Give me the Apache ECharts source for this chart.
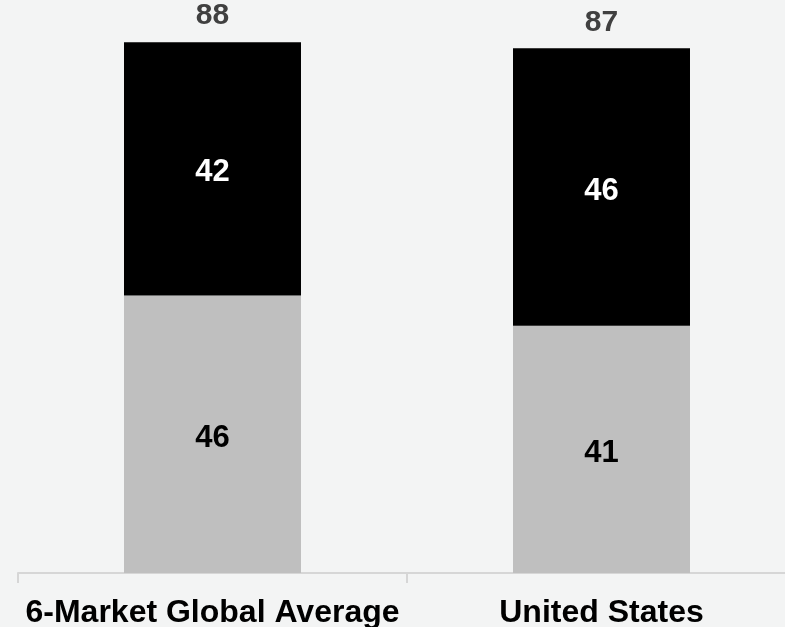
<!DOCTYPE html>
<html>
<head>
<meta charset="utf-8">
<script src="https://cdn.jsdelivr.net/npm/echarts@6/dist/echarts.min.js"></script>
<style>
  html, body { margin: 0; padding: 0; background: #F3F4F4; }
  #chart { width: 785px; height: 627px; }
</style>
</head>
<body>
<div id="chart"></div>
<script>
// Categories and stacked segment values
const categories = ['6-Market Global Average', 'United States'];
const lowerValues = [46, 41];   // grey segment
const upperValues = [42, 46];   // black segment
const totalValues = [88, 87];   // stack totals shown above the bars

const FONT = '"Liberation Sans", Arial, sans-serif';

const chart = echarts.init(document.getElementById('chart'), null, { renderer: 'canvas' });

chart.setOption({
  backgroundColor: '#F3F4F4',
  animation: false,
  // the plot runs slightly past the right edge of the canvas
  grid: {
    left: 18, width: 778, top: 0, height: 573,
    containLabel: false,
    outerBoundsMode: 'none'
  },
  xAxis: {
    type: 'category',
    data: categories,
    axisLine: { show: true, lineStyle: { color: '#D6D6D6', width: 2 } },
    axisTick: { show: true, length: 10, lineStyle: { color: '#D6D6D6', width: 2 } },
    axisLabel: {
      interval: 0,
      hideOverlap: false,
      color: '#000000',
      fontFamily: FONT,
      fontWeight: 'bold',
      fontSize: 32,
      margin: 24
    }
  },
  yAxis: {
    type: 'value',
    min: 0,
    max: 95,
    show: false,
    splitLine: { show: false }
  },
  series: [
    {
      name: 'lower',
      type: 'bar',
      stack: 'total',
      barWidth: '45.5%',
      data: lowerValues,
      itemStyle: { color: '#BFBFBF' },
      label: {
        show: true,
        position: 'inside',
        offset: [0, 4],
        color: '#000000',
        fontFamily: FONT,
        fontWeight: 'bold',
        fontSize: 31
      }
    },
    {
      name: 'upper',
      type: 'bar',
      stack: 'total',
      barWidth: '45.5%',
      data: upperValues,
      itemStyle: { color: '#000000' },
      label: {
        show: true,
        position: 'inside',
        offset: [0, 4],
        color: '#FFFFFF',
        fontFamily: FONT,
        fontWeight: 'bold',
        fontSize: 31
      }
    },
    {
      name: 'totals',
      type: 'bar',
      barWidth: '45.5%',
      barGap: '-100%',
      data: totalValues,
      z: 1,
      itemStyle: { color: 'rgba(0,0,0,0)' },
      label: {
        show: true,
        position: 'top',
        distance: 11,
        color: '#404040',
        fontFamily: FONT,
        fontWeight: 'bold',
        fontSize: 30
      },
      silent: true
    }
  ]
});
</script>
</body>
</html>
